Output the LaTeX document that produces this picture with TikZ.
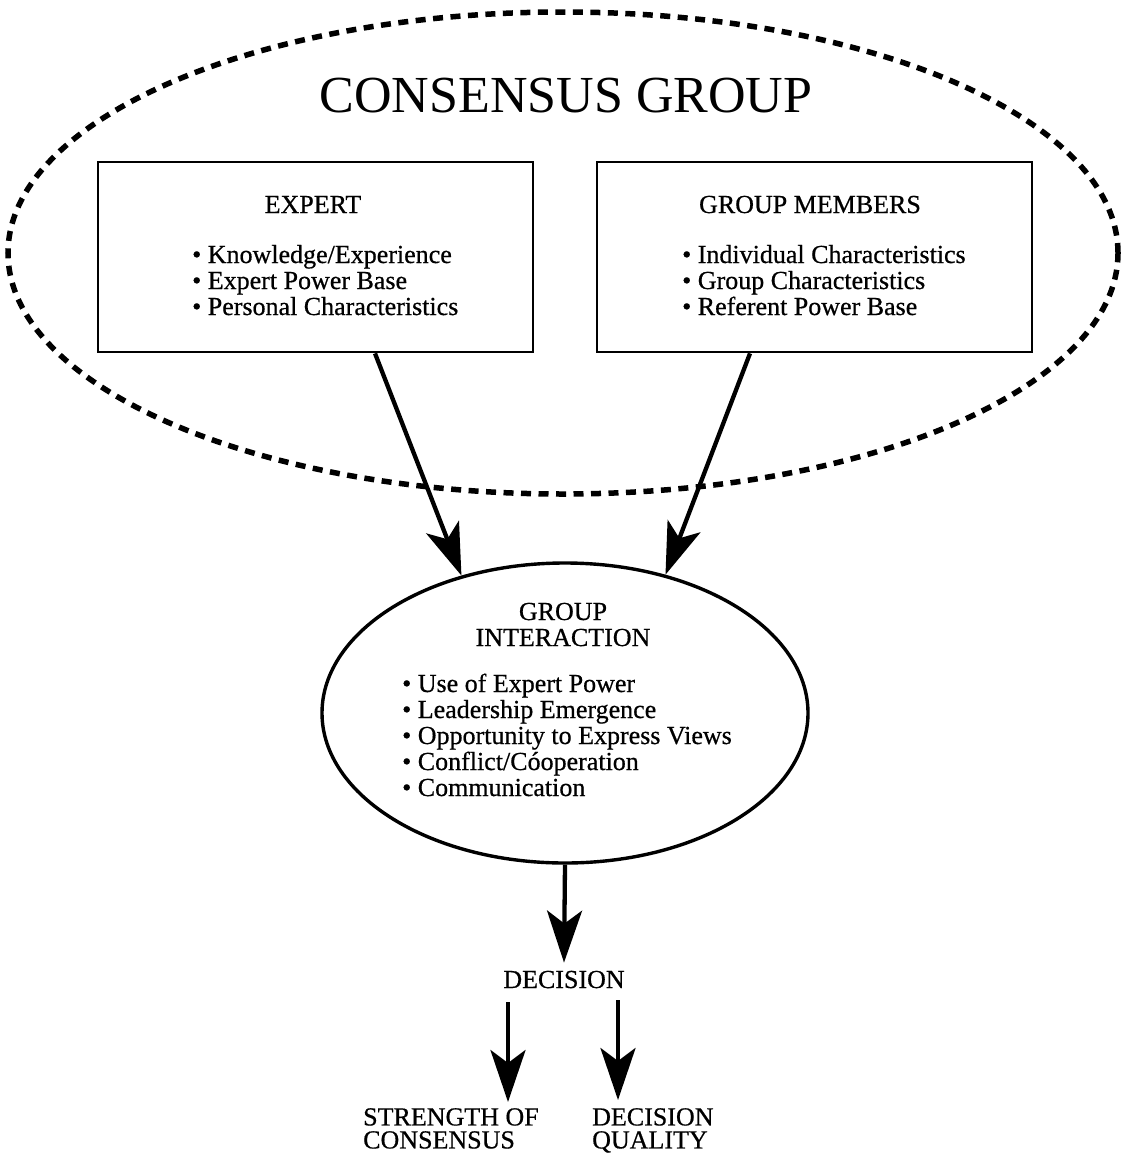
\documentclass[tikz,border=0pt]{standalone}
\usepackage{fontspec}
\setmainfont{Liberation Serif}
\newfontfamily\bodyfont[FakeBold=0.6]{Liberation Serif}
\usetikzlibrary{arrows.meta,shapes.geometric}

\begin{document}
\begin{tikzpicture}[x=1pt,y=-1pt,
  txt/.style={inner sep=0pt, anchor=base, font=\bodyfont\fontsize{26}{26}\selectfont},
  item/.style={txt, anchor=base west},
  stack/.style={inner sep=0pt, anchor=north west, align=left,
    font=\bodyfont\fontsize{26}{23}\selectfont},
  box/.style={draw, line width=2.8pt, minimum width=435pt, minimum height=190pt, inner sep=0pt},
  arr/.style={line width=4.3pt, -{Stealth[length=52pt, width=35pt, inset=13pt]}}]

\useasboundingbox (0,0) rectangle (1121,1154);

% dotted boundary of the consensus group
\node[draw, ellipse, line width=5.5pt, dash pattern=on 10pt off 7.5pt,
      minimum width=1110pt, minimum height=482pt, inner sep=0pt] (consensus) at (563,253) {};
\node[inner sep=0pt, anchor=base, font=\fontsize{52}{56}\selectfont] (title) at (566,112) {CONSENSUS GROUP};

% expert box
\node[box] (expert) at (315.5,257) {};
\node[txt] (experthead) at (313,213) {EXPERT};
\foreach \t [count=\i] in {Knowledge/Experience, Expert Power Base, Personal Characteristics}
  \node[item] (ex\i) at (192,263+26*\i-26) {\textbullet\ \t};

% group members box
\node[box] (members) at (814.5,257) {};
\node[txt] (membershead) at (810,213) {GROUP MEMBERS};
\foreach \t [count=\i] in {Individual Characteristics, Group Characteristics, Referent Power Base}
  \node[item] (gm\i) at (682,263+26*\i-26) {\textbullet\ \t};

% group interaction
\node[draw, ellipse, line width=3.4pt, minimum width=486pt, minimum height=300pt, inner sep=0pt] (inter) at (565,713) {};
\node[txt] (interhead1) at (563,620) {GROUP};
\node[txt] (interhead2) at (563,646) {INTERACTION};
\foreach \t [count=\i] in {Use of Expert Power, Leadership Emergence, Opportunity to Express Views, Conflict/Cóoperation, Communication}
  \node[item] (gi\i) at (402,692+26*\i-26) {\textbullet\ \t};

% outcomes
\node[txt] (decision) at (564,988) {DECISION};
\node[stack] (strength) at (363,1108) {STRENGTH OF\\CONSENSUS};
\node[stack] (quality) at (592,1108) {DECISION\\QUALITY};

% connectors
\draw[arr] ([xshift=59.5pt]expert.south) -- (inter.127.3);
\draw[arr] ([xshift=-64.5pt]members.south) -- (inter.54);
\draw[arr] (inter.south) -- ([yshift=8pt]decision.north);
\draw[arr] ([xshift=-56pt,yshift=-14pt]decision.south) coordinate (s1) -- ([yshift=6pt]s1 |- strength.north);
\draw[arr] ([xshift=54pt,yshift=-12pt]decision.south) coordinate (s2) -- ([yshift=8pt]s2 |- quality.north);
\end{tikzpicture}
\end{document}
